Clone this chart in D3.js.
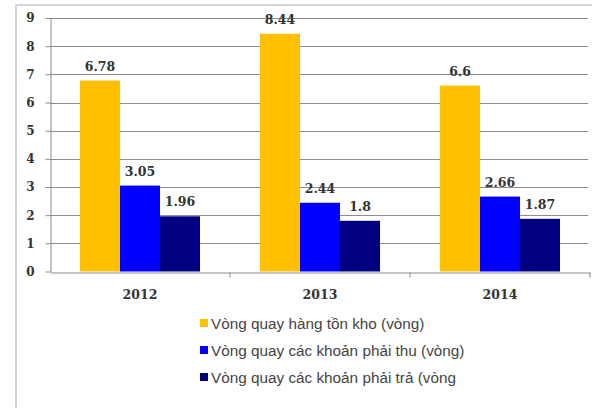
<!DOCTYPE html>
<html>
<head>
<meta charset="utf-8">
<script src="https://cdn.jsdelivr.net/npm/d3@7"></script>
<style>
  html, body { margin: 0; padding: 0; background: #fff; }
  svg { display: block; }
</style>
</head>
<body>
<svg id="chart" width="592" height="408"></svg>
<script>
// Turnover ratios by year
const years = ["2012", "2013", "2014"];
const seriesNames = [
  "Vòng quay hàng tồn kho (vòng)",
  "Vòng quay các khoản phải thu (vòng)",
  "Vòng quay các khoản phải trả (vòng"
];
const inventoryTurnover = [6.78, 8.44, 6.6];
const receivablesTurnover = [3.05, 2.44, 2.66];
const payablesTurnover = [1.96, 1.8, 1.87];
const yTicks = [0, 1, 2, 3, 4, 5, 6, 7, 8, 9];
const seriesColors = ["#FFC000", "#0000FF", "#000080"];

const seriesValues = [inventoryTurnover, receivablesTurnover, payablesTurnover];

const svg = d3.select("#chart");
const plot = { left: 50, right: 590, top: 18, bottom: 271.5 };

// Frame lines around the chart area
svg.append("rect").attr("x", 0).attr("y", 0).attr("width", 592).attr("height", 408).attr("fill", "#fff");
svg.append("line").attr("x1", 16).attr("x2", 592).attr("y1", 5).attr("y2", 5)
  .attr("stroke", "#d6d6d6").attr("stroke-width", 2);
svg.append("line").attr("x1", 16).attr("x2", 16).attr("y1", 4).attr("y2", 408)
  .attr("stroke", "#d6d6d6").attr("stroke-width", 2);

const x0 = d3.scaleBand().domain(years).range([plot.left, plot.right]).padding(0);
const x1 = d3.scaleBand().domain(d3.range(seriesNames.length))
  .range([30, x0.bandwidth() - 30]).padding(0);
const y = d3.scaleLinear().domain([0, 9]).range([plot.bottom, plot.top]);

// Horizontal gridlines
svg.append("g")
  .selectAll("line")
  .data(yTicks.filter(t => t > 0))
  .join("line")
  .attr("x1", plot.left).attr("x2", plot.right - 2)
  .attr("y1", d => Math.round(y(d)) + 0.5).attr("y2", d => Math.round(y(d)) + 0.5)
  .attr("stroke", "#8c8c8c").attr("stroke-width", 1);

// Y axis
const yAxis = svg.append("g")
  .attr("transform", `translate(${plot.left + 0.5},0)`)
  .call(d3.axisLeft(y).tickValues(yTicks).tickSize(5).tickSizeOuter(0).tickPadding(11));
yAxis.select(".domain").attr("stroke", "#8c8c8c");
yAxis.selectAll(".tick line").attr("stroke", "#8c8c8c");
yAxis.selectAll(".tick text")
  .attr("font-family", "'DejaVu Serif', serif").attr("font-weight", "bold")
  .attr("font-size", 12).attr("fill", "#333");

// Bars
const groups = svg.append("g")
  .selectAll("g")
  .data(years)
  .join("g")
  .attr("transform", d => `translate(${x0(d)},0)`);

groups.selectAll("rect")
  .data((yr, i) => seriesValues.map((vals, s) => ({ s, v: vals[i] })))
  .join("rect")
  .attr("x", d => x1(d.s))
  .attr("width", x1.bandwidth())
  .attr("y", d => y(d.v))
  .attr("height", d => y(0) - y(d.v))
  .attr("fill", d => seriesColors[d.s]);

groups.selectAll("text.val")
  .data((yr, i) => seriesValues.map((vals, s) => ({ s, v: vals[i] })))
  .join("text")
  .attr("class", "val")
  .attr("x", d => x1(d.s) + x1.bandwidth() / 2)
  .attr("y", d => y(d.v) - 10)
  .attr("text-anchor", "middle")
  .attr("font-family", "'DejaVu Serif', serif").attr("font-weight", "bold")
  .attr("font-size", 12.5).attr("fill", "#333")
  .text(d => d.v);

// X axis
const xAxis = svg.append("g")
  .attr("transform", `translate(0,${Math.round(plot.bottom) + 0.5})`)
  .call(d3.axisBottom(x0).tickSize(0).tickPadding(18));
xAxis.select(".domain").attr("stroke", "#8c8c8c");
xAxis.selectAll(".tick text")
  .attr("font-family", "'DejaVu Serif', serif").attr("font-weight", "bold")
  .attr("font-size", 12.5).attr("fill", "#333");
// Category divider ticks
xAxis.append("g").selectAll("line")
  .data(years)
  .join("line")
  .attr("x1", d => x0(d) + x0.bandwidth()).attr("x2", d => x0(d) + x0.bandwidth())
  .attr("y1", 0).attr("y2", 5)
  .attr("stroke", "#8c8c8c");

// Legend
const legend = svg.append("g").attr("transform", "translate(200,323)");
const item = legend.selectAll("g")
  .data(seriesNames)
  .join("g")
  .attr("transform", (d, i) => `translate(0,${i * 27})`);
item.append("rect")
  .attr("x", 0).attr("y", -4).attr("width", 8).attr("height", 8)
  .attr("fill", (d, i) => seriesColors[i]);
item.append("text")
  .attr("x", 11).attr("y", 5.5)
  .attr("font-family", "'Liberation Sans', Arial, sans-serif")
  .attr("font-size", 15.3).attr("fill", "#444")
  .text(d => d);
</script>
</body>
</html>
